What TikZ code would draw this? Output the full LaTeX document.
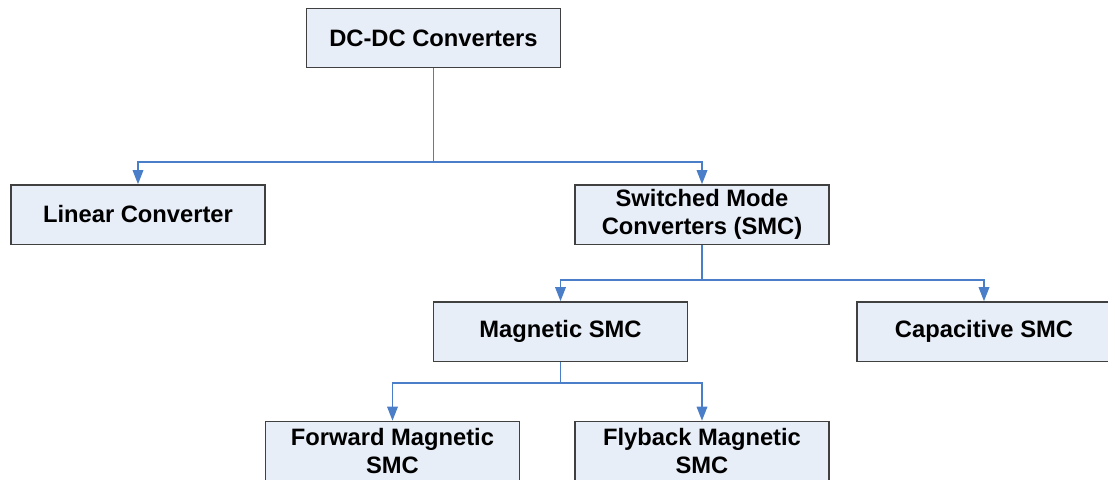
\documentclass[tikz,border=0pt]{standalone}
\usepackage{fontspec}
\setmainfont{Liberation Sans}
\usetikzlibrary{arrows.meta}

\definecolor{boxfill}{HTML}{E8EEF8}
\definecolor{boxline}{HTML}{404040}
\definecolor{linkblue}{HTML}{4A7EC8}

\begin{document}
\begin{tikzpicture}[
  x=0.75pt, y=-0.75pt,
  font=\fontsize{17.8}{21.5}\selectfont\bfseries,
  box/.style={rectangle, draw=boxline, line width=1pt, fill=boxfill, minimum width=190.5pt, minimum height=44.5pt, inner sep=0pt, align=center},
  conn/.style={draw=linkblue, line width=0.9pt, -{Triangle[length=10.5pt, width=8pt]}}
]
\clip (0,0) rectangle (1108,479);

\node[box] (dcdc)   at (433.5, 38)    {DC-DC Converters};
\node[box] (linear) at (138, 214.5)   {Linear Converter};
\node[box] (smc)    at (702, 214.5)   {Switched Mode\\Converters (SMC)};
\node[box] (magn)   at (560.5, 331.5) {Magnetic SMC};
\node[box] (capa)   at (984, 331.5)   {Capacitive SMC};
\node[box] (fwd)    at (392.5, 451)   {Forward Magnetic\\SMC};
\node[box] (fly)    at (702, 451)     {Flyback Magnetic\\SMC};

\coordinate (j1) at (433.5, 162);
\coordinate (j2) at (702, 280);
\coordinate (j3) at (560.5, 383);

\draw[conn, -] (dcdc.south) -- (j1);
\draw[conn] (j1) -| (linear.north);
\draw[conn] (j1) -| (smc.north);

\draw[conn, -] (smc.south) -- (j2);
\draw[conn] (j2) -| (magn.north);
\draw[conn] (j2) -| (capa.north);

\draw[conn, -] (magn.south) -- (j3);
\draw[conn] (j3) -| (fwd.north);
\draw[conn] (j3) -| (fly.north);
\end{tikzpicture}
\end{document}
